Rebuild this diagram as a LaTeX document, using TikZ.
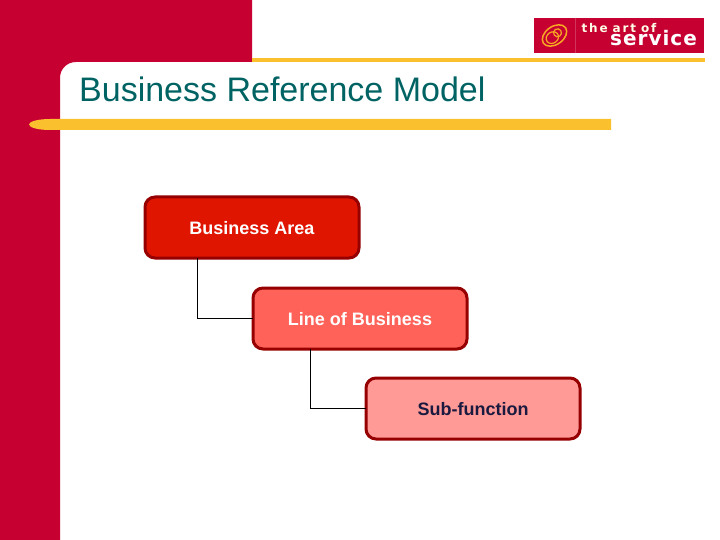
\documentclass[tikz,border=0pt]{standalone}
\usepackage{fontspec}
\setmainfont{Liberation Sans}
\newfontfamily\logofont{DejaVu Sans}
\usetikzlibrary{positioning}
\definecolor{brand}{HTML}{C70032}
\definecolor{gold}{HTML}{FBC02D}
\definecolor{titleteal}{HTML}{006363}
\definecolor{edge}{HTML}{960000}
\definecolor{fillA}{HTML}{E01500}
\definecolor{fillB}{HTML}{FF6259}
\definecolor{fillC}{HTML}{FF9A96}
\definecolor{navy}{HTML}{1A1A40}
\definecolor{swirl}{HTML}{F7A823}
\tikzset{
  levelbox/.style={draw=edge,line width=3pt,rounded corners=10pt,minimum width=214pt,minimum height=61pt,inner sep=0pt,outer sep=0pt,text height=14pt,text depth=0pt,font=\bfseries\fontsize{18}{20}\selectfont,anchor=center},
  link/.style={draw=black,line width=1pt},
}
\begin{document}
\begin{tikzpicture}[x=1pt,y=-1pt]
\useasboundingbox (0,0) rectangle (720,540);
\fill[white] (0,0) rectangle (720,540);
% red frame
\fill[brand] (0,0) -- (252,0) -- (252,62) -- (76,62) .. controls (67,62) and (60,69) .. (60,78) -- (60,540) -- (0,540) -- cycle;
\fill[gold] (252,58) rectangle (705,62);
% title bar
\fill[gold] (611,119) -- (611,130) -- (50,130) .. controls (38,130) and (29,127.5) .. (29,124.5) .. controls (29,121.5) and (38,119) .. (50,119) -- cycle;
\node[anchor=base west,inner sep=0pt,text=titleteal,font=\fontsize{34}{36}\selectfont] (title) at (79,102) {Business Reference Model};
% logo
\fill[brand] (534,18) rectangle (704,53);
\draw[brand!80!white,line width=0.4pt] (575,18) -- (575,53);
\begin{scope}[shift={(554.5,35.5)},rotate=35]
\draw[draw=swirl,line width=1.5pt] (0,0) ellipse [x radius=13.5,y radius=9];
\draw[draw=swirl,line width=1.2pt] (-3,0.5) ellipse [x radius=6.5,y radius=5.5];
\draw[draw=swirl,line width=1.2pt] (4,-0.5) ellipse [x radius=4,y radius=4];
\end{scope}
\node[anchor=base west,inner sep=0pt,text=white!90!yellow,font=\logofont\bfseries\fontsize{12}{14}\selectfont] (logoa) at (581.5,33) {t\kern1.8pt h\kern1.8pt e\kern5pt a\kern1.8pt r\kern1.8pt t\kern5pt o\kern1.8pt f};
\node[anchor=base west,inner sep=0pt,text=white,font=\logofont\bfseries\fontsize{20}{22}\selectfont] (logob) at (610,46) {s\kern1pt e\kern1pt r\kern1pt v\kern1pt i\kern1pt c\kern1pt e};
% boxes
\node[levelbox,fill=fillA,text=white] (area) at (252,227.5) {Business Area};
\node[levelbox,fill=fillB,text=white] (lob) at (360,318.5) {Line of Business};
\node[levelbox,fill=fillC,text=navy] (sub) at (473,408.5) {Sub-function};
\draw[link] ([xshift=52.5pt]area.south west) |- (lob.west);
\draw[link] ([xshift=57.5pt]lob.south west) |- (sub.west);
\end{tikzpicture}
\end{document}
